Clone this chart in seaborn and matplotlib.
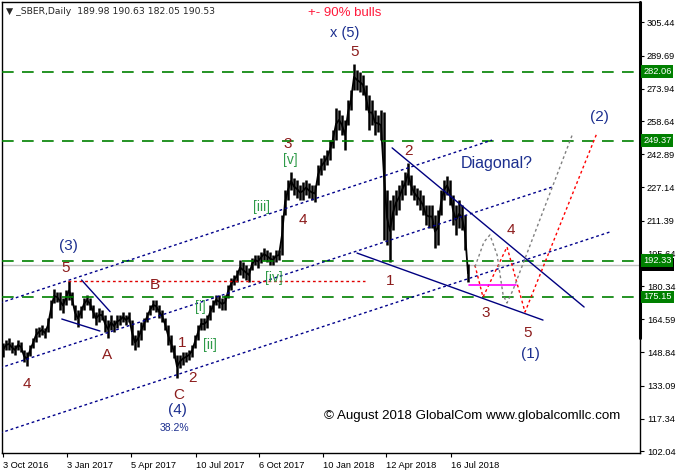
import numpy as np
import pandas as pd
import seaborn as sns
import matplotlib.pyplot as plt
import matplotlib.transforms as mtransforms

sns.set_style('white')
plt.rcParams['font.family'] = ['Liberation Sans', 'DejaVu Sans']

# daily SBER bars, grouped (high / low)
high = [153.3, 154.8, 155.7, 153.8, 152.4, 154.8, 153.8, 150.0, 149.1, 152.4,
        155.7, 160.4, 160.9, 161.9, 160.4, 165.2, 173.7, 178.9, 177.5, 177.5,
        174.7, 178.5, 182.7, 177.5, 171.4, 169.0, 170.9, 174.7, 176.1, 174.7,
        171.4, 168.0, 169.9, 169.0, 166.6, 164.2, 166.6, 164.2, 166.6, 166.6,
        168.0, 166.6, 168.0, 164.2, 157.1, 159.5, 163.3, 165.2, 168.0, 171.4,
        173.7, 173.7, 171.4, 169.0, 165.2, 161.9, 157.1, 152.4, 147.6, 147.6,
        149.1, 149.1, 150.0, 152.4, 157.1, 161.9, 165.2, 165.2, 166.6, 171.4,
        173.7, 176.1, 176.1, 174.7, 176.1, 180.8, 184.2, 185.6, 187.9, 192.7,
        191.8, 190.3, 188.9, 193.7, 195.1, 195.1, 196.5, 198.4, 197.4, 196.5,
        195.1, 197.4, 197.4, 214.0, 225.9, 230.7, 234.5, 231.6, 230.7, 228.3,
        229.7, 230.7, 229.2, 228.3, 228.3, 237.8, 241.1, 242.5, 244.9, 249.6,
        254.4, 264.8, 263.9, 261.5, 259.1, 268.6, 273.4, 285.7, 282.9, 281.9,
        280.5, 275.7, 271.0, 268.6, 263.9, 261.5, 263.9, 263.0, 225.9, 221.2,
        223.5, 225.9, 228.3, 230.7, 234.5, 238.7, 233.0, 228.3, 226.9, 225.9,
        223.5, 218.8, 218.8, 218.8, 214.0, 216.4, 225.9, 230.7, 232.6, 230.7,
        223.5, 218.8, 221.2, 218.8, 214.0, 190.63]
low = [146.7, 150.0, 150.0, 148.6, 147.6, 150.0, 149.1, 144.3, 142.4, 147.2,
       150.9, 153.8, 156.2, 157.1, 155.7, 158.5, 165.2, 172.3, 172.8, 169.0,
       167.5, 171.4, 173.7, 171.4, 164.2, 160.9, 165.2, 169.0, 171.4, 169.0,
       165.2, 161.9, 163.3, 164.2, 158.5, 155.7, 159.5, 158.5, 160.4, 161.9,
       163.3, 161.9, 163.3, 152.4, 150.0, 151.4, 154.8, 159.5, 163.3, 166.6,
       169.0, 168.0, 165.2, 163.3, 159.5, 152.4, 149.1, 146.2, 136.7, 141.5,
       142.9, 144.3, 145.3, 146.7, 150.9, 154.8, 159.5, 159.5, 160.4, 164.2,
       168.0, 171.4, 169.9, 169.0, 169.0, 174.7, 178.5, 180.8, 182.3, 185.6,
       184.2, 183.2, 182.3, 187.9, 190.3, 188.9, 191.3, 192.7, 191.8, 190.3,
       190.3, 191.8, 192.7, 195.1, 214.0, 221.2, 225.9, 223.5, 222.1, 221.2,
       221.2, 223.5, 222.1, 221.2, 220.2, 228.3, 233.0, 235.4, 237.8, 240.2,
       245.8, 249.6, 254.4, 252.0, 244.9, 256.8, 263.9, 273.4, 273.4, 272.4,
       271.0, 263.9, 254.4, 256.8, 252.0, 253.4, 249.6, 202.2, 199.8, 191.8,
       206.9, 214.0, 216.4, 221.2, 223.5, 228.3, 223.5, 221.2, 218.8, 216.4,
       214.0, 209.3, 207.9, 207.9, 198.4, 199.8, 214.0, 221.2, 223.5, 218.8,
       209.3, 204.6, 207.9, 206.9, 197.4, 182.05]

levels = [282.06, 249.37, 192.33, 175.15]
last_price = 190.53
yticks = [102.04, 117.34, 133.09, 148.84, 164.59, 180.34, 195.64, 211.39,
          227.14, 242.89, 258.64, 273.94, 289.69, 305.44]
xtick_pos = [0, 21.33, 42.67, 64.33, 85.33, 106.67, 127.67, 149.33]
xtick_lab = ['3 Oct 2016', '3 Jan 2017', '5 Apr 2017', '10 Jul 2017',
             '6 Oct 2017', '10 Jan 2018', '12 Apr 2018', '16 Jul 2018']

# channel lines (bar index, price)
chan_x = [[-1, 163], [-1, 183], [-1, 202.3]]
chan_y = [[172.3, 249.6], [141.5, 227.3], [110.6, 206.0]]
# solid trend lines
trend_x = [[26.2, 35.7], [19.6, 32.3], [129.7, 193.7], [118, 180]]
trend_y = [[183.2, 168.2], [164.7, 159.0], [245.9, 170.4], [196.0, 164.2]]
# projected paths
red_x = [157.3, 160, 168, 174, 198]
red_y = [190.3, 175.1, 198.9, 168.0, 253.0]
gray_x = [157.3, 160.3, 162.3, 164.7, 166.7, 168, 170, 190]
gray_y = [189.4, 201.2, 204.6, 195.1, 176.1, 172.3, 178.5, 253.0]

dark_red = '#8c1c1c'
navy = '#1c2f8f'
grn = '#2e9a48'
labels = [
    ('+- 90% bulls', 114, 309.9, '#ff1a3c', 9.5),
    ('x (5)', 114, 300.4, navy, 10.5),
    ('5', 117.3, 291.4, dark_red, 11),
    ('(3)', 21.7, 199.4, navy, 11),
    ('5', 21, 188.9, dark_red, 11),
    ('4', 8, 133.9, dark_red, 11),
    ('A', 34.7, 147.6, dark_red, 11),
    ('B', 50.7, 180.8, dark_red, 11),
    ('1', 59.7, 153.3, dark_red, 11),
    ('2', 63.3, 136.7, dark_red, 11),
    ('C', 58.7, 128.6, dark_red, 11),
    ('(4)', 58, 121.5, navy, 11),
    ('38.2%', 57, 113.0, navy, 7.5),
    ('[i]', 65.7, 170.4, grn, 10),
    ('[ii]', 69, 152.4, grn, 10),
    ('[iii]', 86.3, 217.9, grn, 10),
    ('[iv]', 90.3, 184.2, grn, 10),
    ('[v]', 95.7, 240.1, grn, 10),
    ('3', 95, 247.7, dark_red, 11),
    ('4', 100, 211.7, dark_red, 11),
    ('2', 135, 244.4, dark_red, 11),
    ('1', 129, 182.7, dark_red, 11),
    ('3', 161, 167.5, dark_red, 11),
    ('4', 169.3, 206.9, dark_red, 11),
    ('5', 175, 158.1, dark_red, 11),
    ('(1)', 175.7, 148.1, navy, 11),
    ('(2)', 198.7, 260.6, navy, 11),
    ('Diagonal?', 164.7, 238.7, navy, 11.5),
    ('\u00a9 August 2018 GlobalCom www.globalcomllc.com', 156.3, 118.7, 'black', 9.6),
]

df = pd.DataFrame({'bar': np.arange(len(high)), 'high': high, 'low': low})
df['mid'] = (df['high'] + df['low']) / 2

fig = plt.figure(figsize=(6.8, 4.74), dpi=100)
ax = fig.add_axes([2 / 680, 21 / 474, 638 / 680, 451 / 474])

ax.axhline(last_price, color='#c0c0c0', lw=1, zorder=1)
ax.vlines(df['bar'], df['low'], df['high'], color='black', lw=1.8, zorder=2)
sns.lineplot(data=df, x='bar', y='mid', color='black', lw=1.3, ax=ax, zorder=2)

for v in levels:
    ax.axhline(v, color='#008000', lw=1.2, dashes=(7, 5), zorder=3)

for xs, ys in zip(chan_x, chan_y):
    ax.plot(xs, ys, color='#00008b', lw=1, dashes=(2, 2), zorder=3)
for xs, ys in zip(trend_x, trend_y):
    ax.plot(xs, ys, color='#000080', lw=1, zorder=3)
ax.plot([21.7, 120.7], [182.7, 182.7], color='#e00000', lw=1, dashes=(2, 2), zorder=3)
ax.plot(red_x, red_y, color='#ff0000', lw=1, dashes=(2, 2), zorder=4)
ax.plot(gray_x, gray_y, color='#808080', lw=1, dashes=(2, 2), zorder=4)
ax.plot([155.3, 171], [180.8, 180.8], color='#ff00ff', lw=1.2, zorder=4)

for txt, x, y, c, s in labels:
    ax.text(x, y, txt, color=c, fontsize=s, ha='center', va='center', zorder=6)

ax.set_xlim(-0.333, 212.33)
ax.set_ylim(101.13, 315.12)
ax.set_xlabel('')
ax.set_ylabel('')

ax.yaxis.tick_right()
ax.set_yticks(yticks)
ax.set_yticklabels([f'{v:.2f}' for v in yticks])
ax.set_xticks(xtick_pos)
ax.set_xticklabels(xtick_lab)
for lab in ax.get_xticklabels():
    lab.set_horizontalalignment('left')
ax.tick_params(axis='both', which='both', direction='out', length=3, width=0.8,
               labelsize=6.7, colors='black')
ax.tick_params(axis='y', pad=2)
ax.tick_params(axis='x', pad=3, bottom=True)
ax.tick_params(axis='y', right=True, left=False)

for sp in ax.spines.values():
    sp.set_visible(True)
    sp.set_color('black')
    sp.set_linewidth(1)

trans = mtransforms.blended_transform_factory(ax.transAxes, ax.transData)
ax.plot([1.0, 1.0], [155.7, 315.12], transform=trans, color='black', lw=2.2,
        clip_on=False, zorder=7)
ax.text(1.005, last_price, f'{last_price:.2f}', transform=trans, fontsize=6.7,
        color='white', ha='left', va='center', clip_on=False, zorder=8,
        bbox=dict(boxstyle='square,pad=0.2', fc='black', ec='none'))
for v in levels:
    ax.text(1.005, v, f'{v:.2f}', transform=trans, fontsize=6.7, color='white',
            ha='left', va='center', clip_on=False, zorder=9,
            bbox=dict(boxstyle='square,pad=0.2', fc='#008000', ec='none'))

fig.text(6 / 680, 1 - 12 / 474, '\u25bc _SBER,Daily  189.98 190.63 182.05 190.53',
         fontsize=6.7, va='center', ha='left',
         family=['DejaVu Sans', 'Liberation Sans'])

fig.savefig('out.png', dpi=100)
